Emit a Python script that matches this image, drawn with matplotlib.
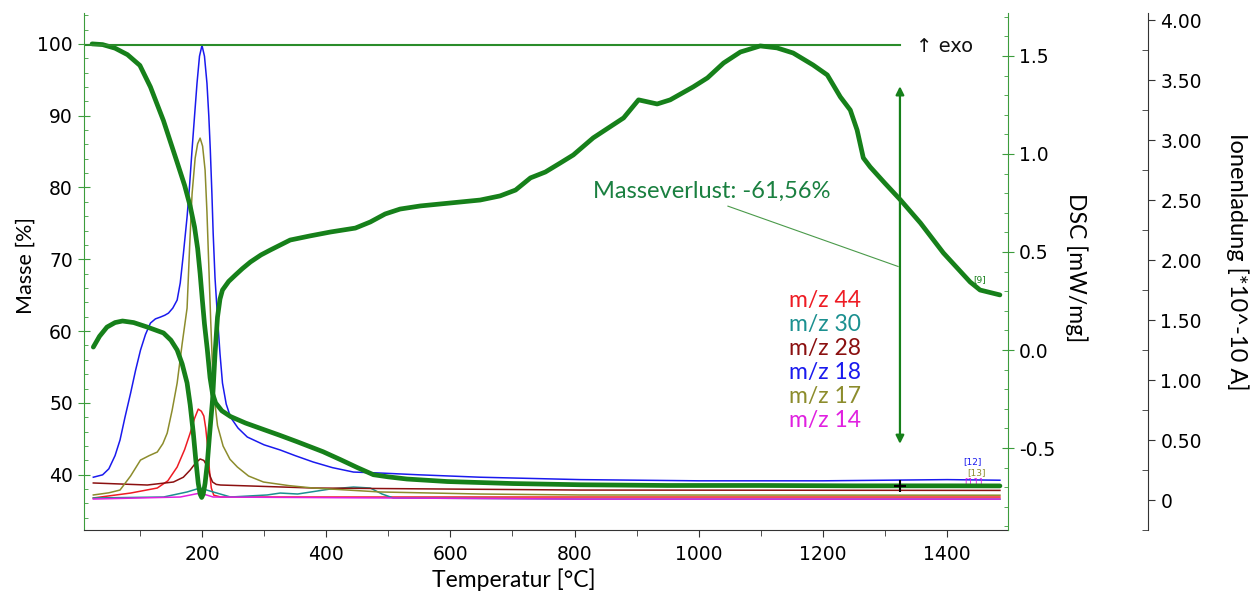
import matplotlib
matplotlib.use("Agg")
import matplotlib.pyplot as plt
from matplotlib.ticker import MultipleLocator, FixedLocator

# ---------------- data ----------------
tg_T = [23, 40, 60, 80, 100, 117, 138, 160, 172, 181, 188, 193, 197, 200.5, 204,
        208.5, 213, 217, 222, 232, 246, 270, 299, 325, 353, 395, 423, 450, 476,
        500, 530, 595, 701, 809, 950, 1100, 1250, 1400, 1485]
tg_M = [100.0, 99.9, 99.4, 98.5, 97.0, 94.0, 89.3, 83.5, 80.3, 77.4, 74.5, 71.5,
        68.0, 64.4, 61.0, 57.5, 53.5, 51.3, 50.0, 48.9, 48.1, 47.2, 46.3, 45.5,
        44.6, 43.2, 42.1, 41.0, 40.0, 39.7, 39.4, 39.05, 38.77, 38.6, 38.5, 38.5,
        38.45, 38.45, 38.44]

dsc_T = [25, 35, 47, 60, 72, 90, 112, 138, 150, 160, 168, 176, 181, 186, 190, 194,
         197, 199.5, 202, 205, 208.5, 212, 217, 221, 225, 229, 233, 243, 254, 265,
         278, 295, 310, 342, 374, 407, 447, 471, 495, 519, 552, 600, 648, 680,
         705, 729, 753, 777, 798, 830, 879, 903, 933, 954, 991, 1014, 1040, 1067,
         1099, 1126, 1152, 1184, 1207, 1228, 1244, 1255, 1265, 1276, 1300, 1325,
         1357, 1394, 1437, 1453, 1485]
dsc_V = [0.015, 0.07, 0.117, 0.14, 0.148, 0.14, 0.117, 0.087, 0.05, 0.0, -0.07,
         -0.168, -0.28, -0.423, -0.56, -0.68, -0.735, -0.752, -0.735, -0.68,
         -0.58, -0.44, -0.255, -0.02, 0.168, 0.26, 0.306, 0.35, 0.383, 0.415,
         0.449, 0.485, 0.51, 0.561, 0.582, 0.602, 0.622, 0.653, 0.694, 0.719,
         0.735, 0.75, 0.765, 0.786, 0.816, 0.878, 0.908, 0.954, 0.995, 1.082,
         1.184, 1.276, 1.255, 1.276, 1.342, 1.388, 1.464, 1.520, 1.551, 1.541,
         1.515, 1.454, 1.403, 1.291, 1.224, 1.122, 0.980, 0.934, 0.85, 0.765,
         0.648, 0.495, 0.347, 0.306, 0.281]

mz18_T = [25, 40, 50, 60, 68, 76, 85, 93, 101, 109, 117, 125, 133, 140, 146, 153,
          160, 165, 170, 176, 180, 184, 188, 192, 196, 200, 204, 208, 211, 213.4,
          216, 218, 221, 225, 229, 233, 239, 246, 258, 273, 300, 326, 350, 379,
          410, 444, 487, 550, 648, 809, 1000, 1200, 1400, 1485]
mz18_I = [0.19, 0.21, 0.26, 0.37, 0.5, 0.69, 0.89, 1.08, 1.25, 1.38, 1.475, 1.51,
          1.525, 1.54, 1.558, 1.6, 1.667, 1.81, 2.05, 2.36, 2.62, 2.92, 3.2, 3.475,
          3.7, 3.79, 3.7, 3.475, 3.2, 2.92, 2.55, 2.225, 1.85, 1.525, 1.22, 0.975,
          0.8, 0.69, 0.6, 0.525, 0.46, 0.417, 0.37, 0.317, 0.27, 0.233, 0.225,
          0.21, 0.19, 0.17, 0.16, 0.16, 0.17, 0.165]

mz17_T = [25, 50, 68, 85, 101, 115, 128, 137, 144, 152, 160, 168, 176, 180, 184,
          189, 193, 197, 201, 205, 208, 211, 214, 217, 221, 225, 234, 245, 257,
          275, 299, 340, 379, 487, 648, 809, 1485]
mz17_I = [0.042, 0.06, 0.083, 0.2, 0.333, 0.37, 0.4, 0.47, 0.558, 0.75, 0.975,
          1.3, 1.6, 2.1, 2.55, 2.85, 2.97, 3.017, 2.95, 2.75, 2.4, 1.95, 1.5, 1.1,
          0.8, 0.62, 0.45, 0.34, 0.275, 0.2, 0.15, 0.12, 0.1, 0.067, 0.05, 0.042,
          0.04]

mz44_T = [25, 85, 128, 145, 160, 172, 181, 188, 194, 199, 203, 206, 209, 212,
          215, 219, 230, 809, 1485]
mz44_I = [0.017, 0.058, 0.1, 0.16, 0.275, 0.42, 0.558, 0.68, 0.758, 0.74, 0.7,
          0.6, 0.45, 0.25, 0.1, 0.04, 0.025, 0.025, 0.025]

mz28_T = [25, 112, 154, 170, 181, 190, 197, 203, 209, 213, 217, 223, 230, 379,
          809, 1485]
mz28_I = [0.142, 0.125, 0.15, 0.19, 0.25, 0.31, 0.342, 0.33, 0.275, 0.2, 0.15,
          0.13, 0.125, 0.1, 0.083, 0.08]

mz30_T = [25, 138, 176, 197, 218, 246, 305, 326, 354, 407, 444, 471, 490, 508,
          809, 1485]
mz30_I = [0.017, 0.025, 0.067, 0.1, 0.067, 0.025, 0.042, 0.058, 0.05, 0.092,
          0.108, 0.1, 0.05, 0.017, 0.008, 0.008]

mz14_T = [25, 165, 197, 218, 809, 1485]
mz14_I = [0.008, 0.025, 0.058, 0.025, 0.008, 0.008]

legend_labels = ["m/z 44", "m/z 30", "m/z 28", "m/z 18", "m/z 17", "m/z 14"]
x_ticks = [200, 400, 600, 800, 1000, 1200, 1400]
mass_ticks = [40, 50, 60, 70, 80, 90, 100]
dsc_ticks = [-0.5, 0.0, 0.5, 1.0, 1.5]
dsc_tick_labels = ["-0.5", "0.0", "0.5", "1.0", "1.5"]
ion_ticks = [0, 0.5, 1.0, 1.5, 2.0, 2.5, 3.0, 3.5, 4.0]
ion_tick_labels = ["0", "0.50", "1.00", "1.50", "2.00", "2.50", "3.00", "3.50", "4.00"]
mass_loss_text = "Masseverlust: -61,56%"
mass_loss_T = 1324
mass_final = 38.44

# ---------------- style ----------------
GREEN = "#16801a"
SPG = "#3c9c3c"
c44, c30, c28, c18, c17, c14 = "#ee1c24", "#1b9090", "#8b1010", "#1a1aee", "#8c8c2c", "#e020e0"
label_font = ["Lato", "DejaVu Sans"]
tick_font = "DejaVu Sans"

fig = plt.figure(figsize=(12.55, 5.95), dpi=100)
fig.patch.set_facecolor("white")
rect = [84 / 1255, 1 - 530 / 595, 924 / 1255, 517 / 595]
ax3 = fig.add_axes(rect)           # ion current (bottom layer)
ax = fig.add_axes(rect)            # mass
ax2 = fig.add_axes(rect)           # DSC
ax3.set_zorder(1); ax.set_zorder(2); ax2.set_zorder(3)
ax.patch.set_visible(False); ax2.patch.set_visible(False)

xlim = (10, 1498)
for a in (ax, ax2, ax3):
    a.set_xlim(*xlim)

ax.set_ylim(32.3, 104.3)
ax2.set_ylim(-0.918, 1.719)
ax3.set_ylim(-0.25, 4.06)

# ion curves
lw_i = 1.1
ax3.plot(mz44_T, mz44_I, color=c44, lw=lw_i)
ax3.plot(mz30_T, mz30_I, color=c30, lw=lw_i)
ax3.plot(mz28_T, mz28_I, color=c28, lw=lw_i)
ax3.plot(mz18_T, mz18_I, color=c18, lw=lw_i)
ax3.plot(mz17_T, mz17_I, color=c17, lw=lw_i)
ax3.plot(mz14_T, mz14_I, color=c14, lw=lw_i)

# TG and DSC
ax.plot(tg_T, tg_M, color=GREEN, lw=3.4, solid_capstyle="round", solid_joinstyle="round")
ax2.plot(dsc_T, dsc_V, color=GREEN, lw=3.4, solid_capstyle="round", solid_joinstyle="round")

# exo line
ax.plot([xlim[0], mass_loss_T], [99.85, 99.85], color="#2a8c2a", lw=1.5)
ax.text(1350, 99.6, "↑ exo", fontsize=14, family=["DejaVu Sans"], va="center", ha="left",
        color="#111111")

# mass loss arrow
ax.annotate("", xy=(mass_loss_T, 94.1), xytext=(mass_loss_T, 44.3),
            arrowprops=dict(arrowstyle="<|-|>", color=GREEN, lw=1.6,
                            mutation_scale=12, shrinkA=0, shrinkB=0))
ax.plot([mass_loss_T], [mass_final], marker="+", color="black", ms=9, mew=1.5, zorder=5)
ax.plot([1047, 1321], [77.4, 69.0], color="#4a9a4a", lw=0.8)
ax.text(830, 79.4, mass_loss_text, fontsize=17, family=label_font, color="#1a8040",
        va="center", ha="left")
ax.text(1453, 67.1, "[9]", fontsize=6.5, color=GREEN, va="center", ha="center")

# small ion labels
ax3.text(1440, 0.32, "[12]", fontsize=6.5, color=c18, ha="center", va="center")
ax3.text(1448, 0.23, "[13]", fontsize=6.5, color=c17, ha="center", va="center")
ax3.text(1443, 0.15, "[11]", fontsize=6.5, color=c14, ha="center", va="center")

# legend text
leg_colors = [c44, c30, c28, c18, c17, c14]
for i, (lab, c) in enumerate(zip(legend_labels, leg_colors)):
    yy = 300 + i * 24.2
    fig.text(789 / 1255, 1 - yy / 595, lab, fontsize=16.5, family=label_font, color=c,
             ha="left", va="center")

# ---------------- axes styling ----------------
for a in (ax2, ax3):
    a.xaxis.set_visible(False)
for s in ("top", "right"):
    ax.spines[s].set_visible(False)
ax.spines["left"].set_color(SPG)
ax.spines["bottom"].set_color("#333333")
for s in ("top", "left", "bottom"):
    ax2.spines[s].set_visible(False)
    ax3.spines[s].set_visible(False)
ax2.spines["right"].set_color(SPG)
ax3.spines["right"].set_position(("axes", (1148 - 84) / 924))
ax3.spines["right"].set_color("#333333")
ax3.yaxis.tick_right()
ax3.yaxis.set_label_position("right")
ax2.yaxis.tick_right()
ax2.yaxis.set_label_position("right")

ax.set_xticks(x_ticks)
ax.xaxis.set_minor_locator(FixedLocator([100, 300, 500, 700, 900, 1100, 1300]))
ax.tick_params(axis="x", which="major", direction="out", length=5, color="#333333",
               labelsize=13.5, pad=6)
ax.tick_params(axis="x", which="minor", direction="out", length=4, color="#333333")

ax.set_yticks(mass_ticks)
ax.yaxis.set_minor_locator(MultipleLocator(2))
ax.tick_params(axis="y", which="major", direction="inout", length=8, color=SPG,
               labelsize=13.5, pad=4)
ax.tick_params(axis="y", which="minor", direction="in", length=3, color=SPG)

ax2.set_yticks(dsc_ticks)
ax2.set_yticklabels(dsc_tick_labels)
ax2.yaxis.set_minor_locator(MultipleLocator(0.1))
ax2.tick_params(axis="y", which="major", direction="inout", length=8, color=SPG,
                labelsize=13.5, pad=4)
ax2.tick_params(axis="y", which="minor", direction="in", length=3, color=SPG)

ax3.set_yticks(ion_ticks)
ax3.set_yticklabels(ion_tick_labels)
ax3.yaxis.set_minor_locator(MultipleLocator(0.25))
ax3.tick_params(axis="y", which="major", direction="out", length=5, color="#333333",
                labelsize=13.5, pad=4)
ax3.tick_params(axis="y", which="minor", direction="in", length=4, color="#333333")

for a in (ax, ax2, ax3):
    for lab in a.get_xticklabels() + a.get_yticklabels():
        lab.set_family(tick_font)

# axis titles
fig.text(26 / 1255, 1 - 265 / 595, "Masse [%]", rotation=90, fontsize=15.5,
         family=label_font, ha="center", va="center")
fig.text(514 / 1255, 1 - 580 / 595, "Temperatur [°C]", fontsize=16.5,
         family=label_font, ha="center", va="center")
fig.text(1076 / 1255, 1 - 268 / 595, "DSC [mW/mg]", rotation=270, fontsize=16.5,
         family=label_font, ha="center", va="center")
fig.text(1237 / 1255, 1 - 262 / 595, "Ionenladung [*10^-10 A]", rotation=270, fontsize=17,
         family=label_font, ha="center", va="center")

fig.savefig("out.png", dpi=100, facecolor="white")
